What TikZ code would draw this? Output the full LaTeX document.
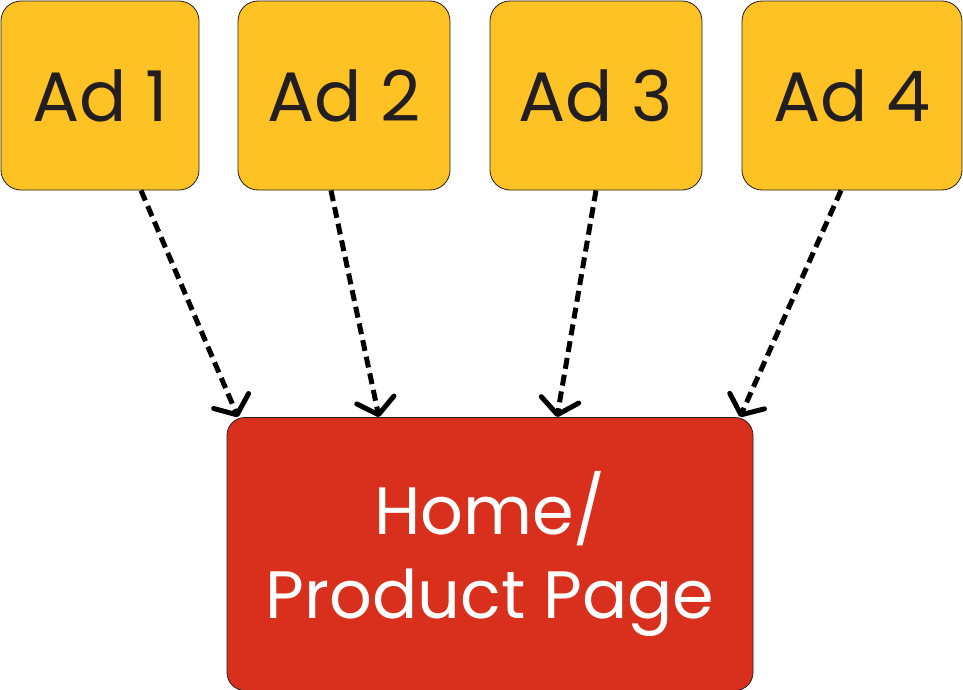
\documentclass[tikz,border=0pt]{standalone}
\usepackage{fontspec}
\setmainfont{Poppins}
\usetikzlibrary{arrows.meta}
\definecolor{adyellow}{HTML}{FFC224}
\definecolor{pagered}{HTML}{D9301E}
\definecolor{inkdark}{HTML}{231F20}
\tikzset{
  adbox/.style={draw=inkdark, line width=0.8pt, fill=adyellow, rounded corners=20pt,
    minimum height=189pt, inner sep=0pt, text=inkdark,
    font=\fontsize{70}{80}\selectfont},
  pagebox/.style={draw=inkdark, line width=0.8pt, fill=pagered, rounded corners=18pt,
    minimum width=526pt, minimum height=273pt, inner sep=0pt, text=white, align=center,
    font=\fontsize{67}{84}\selectfont},
  linkarrow/.style={line width=5pt, black, dash pattern=on 11pt off 6pt,
    -{Straight Barb[length=15pt,width=38pt,line width=5pt,round]}}
}
\begin{document}
\begin{tikzpicture}[x=1pt,y=-1pt]
\useasboundingbox (0,0) rectangle (963,690);
\node[adbox, minimum width=198pt] (a1) at (100,95.5) {Ad 1};
\node[adbox, minimum width=212pt] (a2) at (344,95.5) {Ad 2};
\node[adbox, minimum width=212pt] (a3) at (596,95.5) {Ad 3};
\node[adbox, minimum width=220pt] (a4) at (852,95.5) {Ad 4};
\node[pagebox] (home) at (490,554) {Home/\\Product Page};
\draw[linkarrow] ([xshift=41pt]a1.south) -- ([xshift=-252pt]home.north);
\draw[linkarrow] ([xshift=-13pt]a2.south) -- ([xshift=-111pt]home.north);
\draw[linkarrow] ([xshift=0pt]a3.south) -- ([xshift=67pt]home.north);
\draw[linkarrow] ([xshift=-11pt]a4.south) -- ([xshift=250pt]home.north);
\end{tikzpicture}
\end{document}
